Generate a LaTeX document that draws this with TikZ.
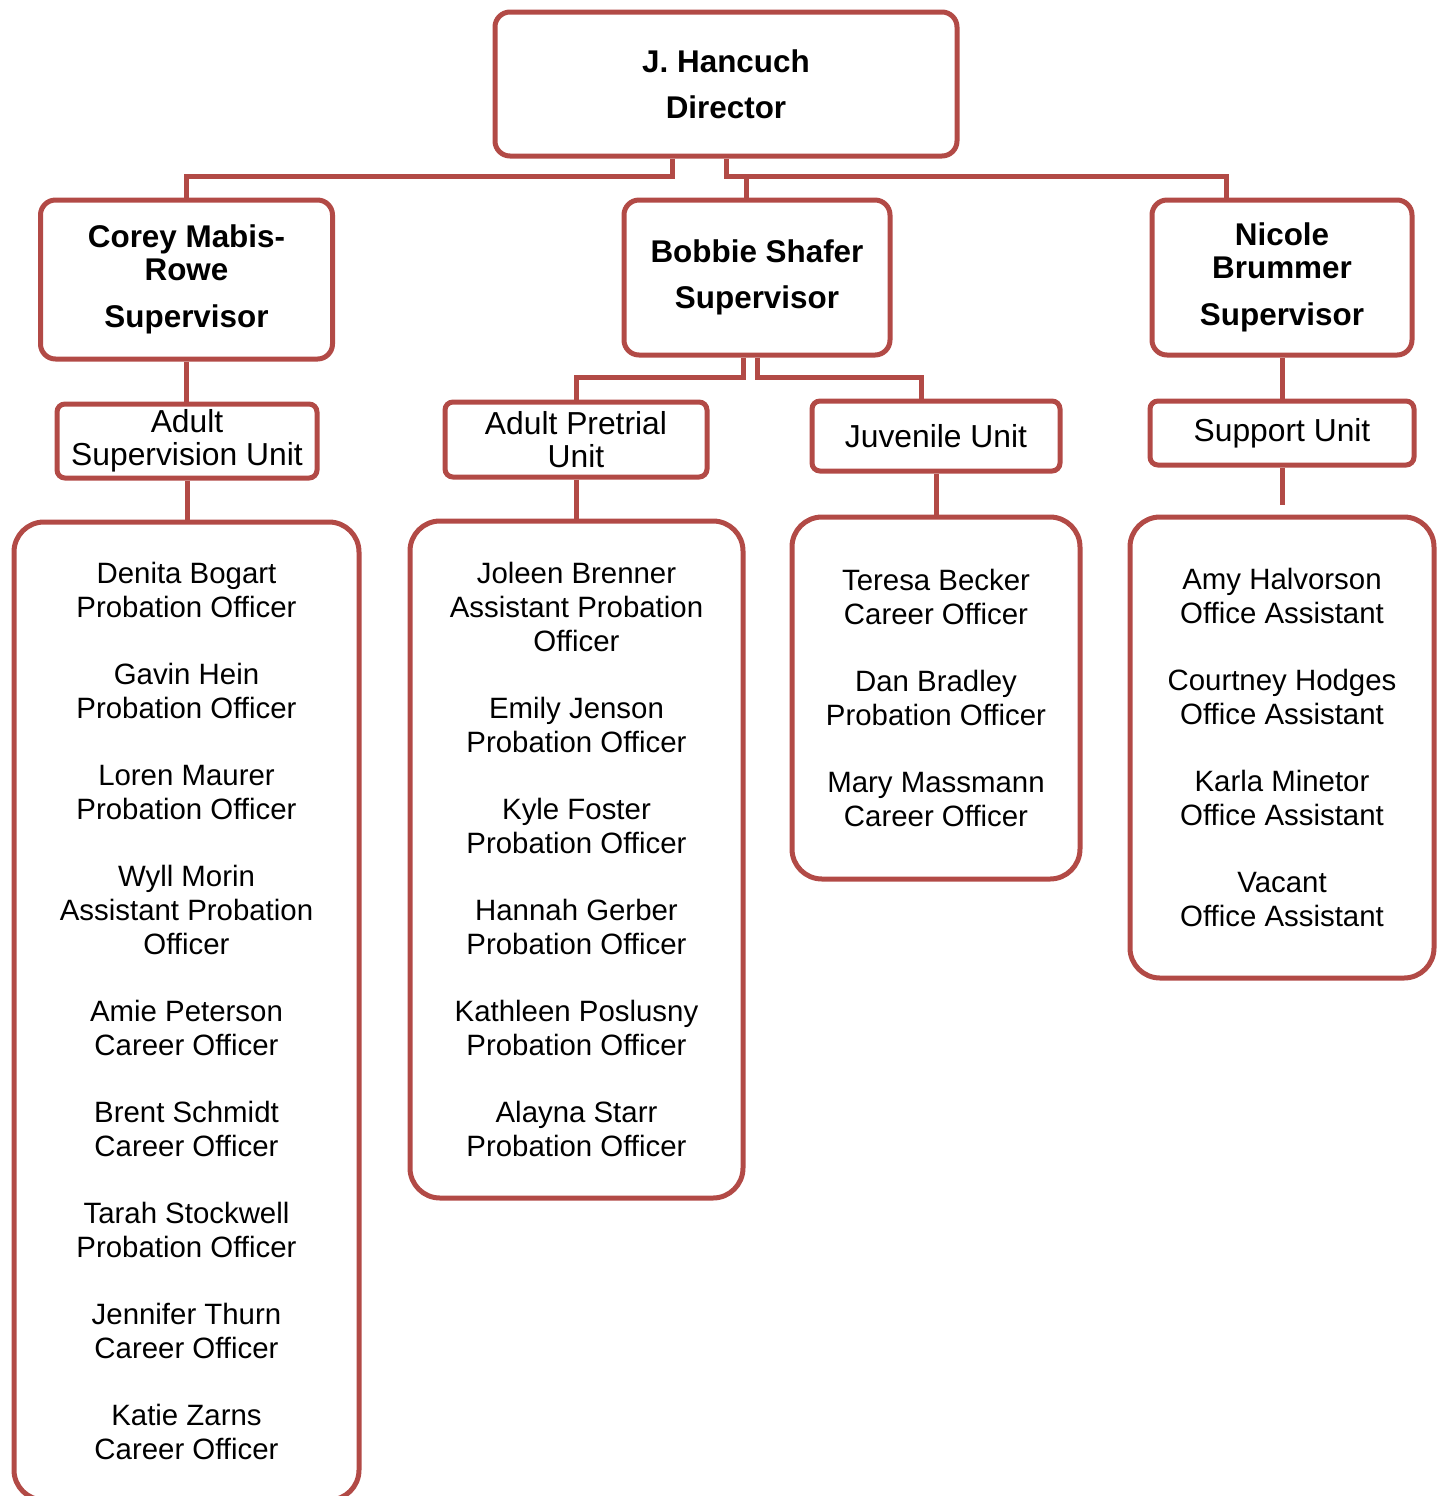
\documentclass[tikz,border=0pt]{standalone}
\usepackage{fontspec}
\setmainfont{Liberation Sans}
\definecolor{boxred}{RGB}{178,74,70}
\tikzset{headbox/.style={draw=boxred, line width=2.5pt, rounded corners=7.5pt, inner sep=0pt, align=center, font=\fontsize{15.7}{16.5}\selectfont\bfseries},
  unitbox/.style={draw=boxred, line width=2.5pt, rounded corners=4pt, inner sep=0pt, align=center, font=\fontsize{15.9}{16.5}\selectfont},
  listbox/.style={draw=boxred, line width=2.5pt, rounded corners=15pt, inner sep=0pt, align=center, font=\fontsize{14.7}{17}\selectfont},
  link/.style={draw=boxred, line width=2.5pt}}

\begin{document}
\begin{tikzpicture}[x=0.5pt,y=-0.5pt]
   \useasboundingbox (0,0) rectangle (1446,1496);
   \node[headbox, minimum width=231pt, minimum height=72pt] (dir) at (726,84) {J. Hancuch\\[6.5pt]Director};
   \node[headbox, minimum width=146pt, minimum height=79.5pt] (corey) at (186.5,279.5) {Corey Mabis-\\Rowe\\[7pt]Supervisor};
   \node[headbox, minimum width=133pt, minimum height=77.5pt] (bobbie) at (757,277.5) {Bobbie Shafer\\[6.5pt]Supervisor};
   \node[headbox, minimum width=130pt, minimum height=77.5pt] (nicole) at (1282,277.5) {Nicole\\Brummer\\[7pt]Supervisor};
   \node[unitbox, minimum width=130pt, minimum height=37pt] (adultsup) at (187,441) {Adult\\Supervision Unit};
   \node[unitbox, minimum width=131pt, minimum height=37.5pt] (pretrial) at (576,439.5) {Adult Pretrial\\Unit};
   \node[unitbox, minimum width=124pt, minimum height=35pt] (juvenile) at (936,436) {Juvenile Unit};
   \node[unitbox, minimum width=132pt, minimum height=32pt] (support) at (1282,433) {Support Unit};
   \node[listbox, minimum width=172.5pt, minimum height=489pt] (staffa) at (186.5,1011) {Denita Bogart\\Probation Officer\\[16.5pt]Gavin Hein\\Probation Officer\\[16.5pt]Loren Maurer\\Probation Officer\\[16.5pt]Wyll Morin\\Assistant Probation\\Officer\\[16.5pt]Amie Peterson\\Career Officer\\[16.5pt]Brent Schmidt\\Career Officer\\[16.5pt]Tarah Stockwell\\Probation Officer\\[16.5pt]Jennifer Thurn\\Career Officer\\[16.5pt]Katie Zarns\\Career Officer};
   \node[listbox, minimum width=166.5pt, minimum height=338.5pt] (staffb) at (576.5,859.5) {Joleen Brenner\\Assistant Probation\\Officer\\[16.5pt]Emily Jenson\\Probation Officer\\[16.5pt]Kyle Foster\\Probation Officer\\[16.5pt]Hannah Gerber\\Probation Officer\\[16.5pt]Kathleen Poslusny\\Probation Officer\\[16.5pt]Alayna Starr\\Probation Officer};
   \node[listbox, minimum width=144pt, minimum height=181pt] (staffc) at (936,698) {Teresa Becker\\Career Officer\\[16.5pt]Dan Bradley\\Probation Officer\\[16.5pt]Mary Massmann\\Career Officer};
   \node[listbox, minimum width=152pt, minimum height=230.5pt] (staffd) at (1282,747.5) {Amy Halvorson\\Office Assistant\\[16.5pt]Courtney Hodges\\Office Assistant\\[16.5pt]Karla Minetor\\Office Assistant\\[16.5pt]Vacant\\Office Assistant};
   \draw[link] ([xshift=-27pt]dir.south) -- ++(0,18) -| (corey.north);
   \draw[link] (dir.south) -- ++(0,18) -| ([xshift=-28pt]nicole.north);
   \draw[link] (dir.south) ++(20,18) coordinate (b) -- (b |- bobbie.north);
   \draw[link] ([xshift=-7pt]bobbie.south) -- ++(0,20) -| (pretrial.north);
   \draw[link] (bobbie.south) -- ++(0,20) -| ([xshift=-7.5pt]juvenile.north);
   \draw[link] (corey.south) -- (corey.south |- adultsup.north);
   \draw[link] (adultsup.south) -- (adultsup.south |- staffa.north);
   \draw[link] (pretrial.south) -- (pretrial.south |- staffb.north);
   \draw[link] (juvenile.south) -- (staffc.north);
   \draw[link] (nicole.south) -- (support.north);
   \draw[link, shorten >=5pt] (support.south) -- (staffd.north);
  \end{tikzpicture}
\end{document}
